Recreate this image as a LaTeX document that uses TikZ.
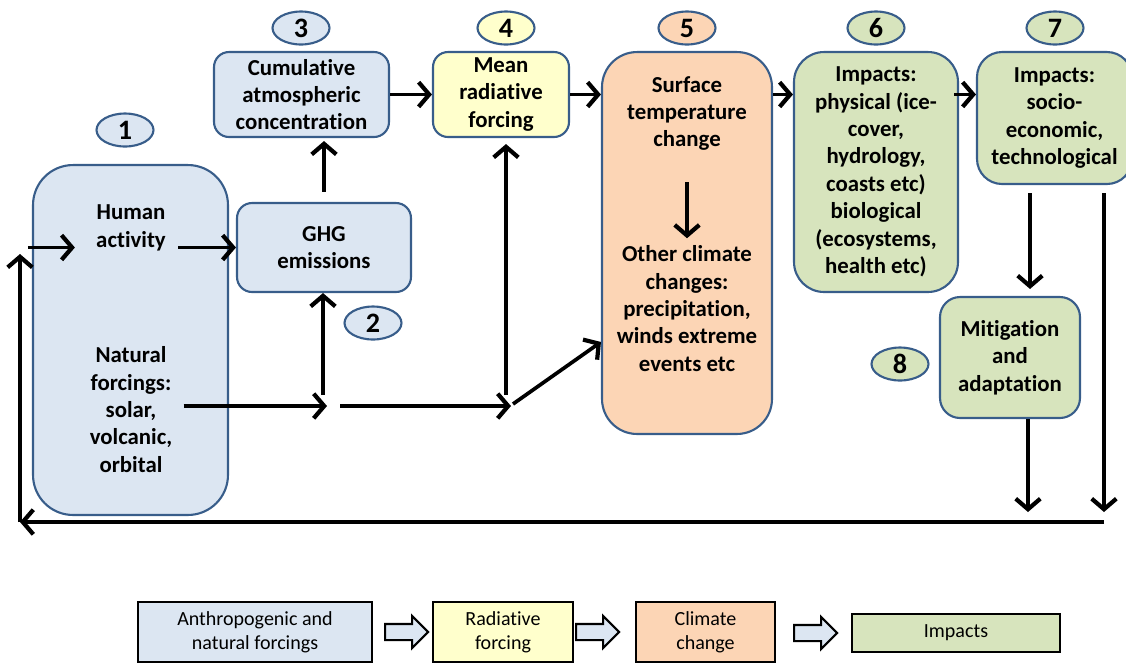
\documentclass[tikz,border=0pt]{standalone}
\usepackage{fontspec}
\setmainfont{Carlito}[RawFeature={-liga;-dlig;-clig;-calt}]
\usepackage{tikz}
\definecolor{forceblue}{RGB}{220,230,242}
\definecolor{rfyellow}{RGB}{255,255,204}
\definecolor{ccorange}{RGB}{252,213,181}
\definecolor{impgreen}{RGB}{215,228,189}
\definecolor{edgeblue}{RGB}{56,93,138}
\usetikzlibrary{arrows.meta,shapes.geometric,shapes.arrows,positioning}
\tikzstyle{stage}=[draw=edgeblue,line width=1.2pt,align=center,inner sep=0pt,font=\bfseries\fontsize{13}{15.6}\selectfont]
\tikzstyle{label}=[align=center,inner sep=0pt,font=\bfseries\fontsize{13}{15.6}\selectfont]
\tikzstyle{badge}=[draw=edgeblue,line width=1.2pt,ellipse,minimum width=1.14cm,minimum height=0.66cm,inner sep=0pt,font=\bfseries\fontsize{16}{18}\selectfont]

\begin{document}
\begin{tikzpicture}[
  x=0.02cm, y=-0.02cm,
  flow/.style={line width=2.1pt,-{Straight Barb[length=6pt,width=14pt,line width=2.4pt]}},
  legbox/.style={
    draw,
    line width=1.6pt,
    minimum height=1.2cm,
    align=center,
    font=\fontsize{11.4}{13.8}\selectfont
    },
  legarrow/.style={
    draw,
    line width=1.2pt,
    fill=forceblue,
    single arrow,
    single arrow head extend=0.16cm,
    minimum height=0.86cm,
    inner sep=0.14cm
    }
]
\useasboundingbox (0,0) rectangle (1126,664);

% boxes
\node [stage, fill=forceblue, rounded corners=0.8cm, minimum width=3.9cm, minimum height=7cm] (forcings) at (130.5,340) {};
\node [label] (human) at (131,228) {Human\\activity};
\node [label] (natural) at (131,409.5) {Natural\\forcings:\\solar,\\volcanic,\\orbital};
\node [stage, fill=forceblue, rounded corners=0.3cm, minimum width=3.48cm, minimum height=1.78cm] (ghg) at (324,247.5) {GHG\\emissions};
\node [stage, fill=forceblue, rounded corners=0.3cm, minimum width=3.5cm, minimum height=1.7cm] (cum) at (301.5,94.5) {Cumulative\\atmospheric\\concentration};
\node [stage, fill=rfyellow, rounded corners=0.3cm, minimum width=2.72cm, minimum height=1.7cm] (mean) at (501,94.5) {Mean\\radiative\\forcing};
\node [stage, fill=ccorange, rounded corners=0.7cm, minimum width=3.4cm, minimum height=7.64cm] (surf) at (687,243) {};
\node [label] (surftop) at (687,113.5) {Surface\\temperature\\change};
\node [label] (surfbottom) at (687,308.5) {Other climate\\changes:\\precipitation,\\winds extreme\\events etc};
\node [stage, fill=impgreen, rounded corners=0.6cm, minimum width=3.28cm, minimum height=4.8cm] (imp) at (876,172) {Impacts:\\physical (ice-\\cover,\\hydrology,\\coasts etc)\\biological\\(ecosystems,\\health etc)};
\node [stage, fill=impgreen, rounded corners=0.5cm, minimum width=3.1cm, minimum height=2.64cm] (soc) at (1054.5,118) {Impacts:\\socio-\\economic,\\technological};
\node [stage, fill=impgreen, rounded corners=0.4cm, minimum width=2.8cm, minimum height=2.42cm] (mit) at (1010,357.5) {Mitigation\\and\\adaptation};

% numbers
\node [badge, fill=forceblue] (n1) at (125,130) {1};
\node [badge, fill=forceblue] (n2) at (373,323) {2};
\node [badge, fill=forceblue] (n3) at (301,28) {3};
\node [badge, fill=rfyellow] (n4) at (506,28) {4};
\node [badge, fill=ccorange] (n5) at (687,28) {5};
\node [badge, fill=impgreen] (n6) at (876,28) {6};
\node [badge, fill=impgreen] (n7) at (1055,28) {7};
\node [badge, fill=impgreen] (n8) at (900,364) {8};

% junctions
\coordinate (jghg) at (323,406);
\coordinate (jrf) at (506,406);
\coordinate (loopleft) at (20,522);
\coordinate (loopright) at (1104,522);
\coordinate (loopup) at (20,254);

% connectors
\draw [flow] (loopright) -- (loopleft);
\draw [flow] (loopleft) -- (loopup);
\draw [flow, shorten >=0.42cm] ([xshift=0.16cm]loopup |- ghg.west) -- (human.west |- ghg.west);
\draw [flow] ([xshift=0.24cm]human.east |- ghg.west) -- (ghg.west);
\draw [flow] ([xshift=0.22cm]natural.east |- jghg) -- ([xshift=0.08cm]jghg);
\draw [flow] ([xshift=0.34cm]jghg) -- ([xshift=0.1cm]jrf);
\draw [flow] ([yshift=0.22cm]jghg) -- (ghg.south -| jghg);
\draw [flow, shorten >=0.12cm] ([yshift=0.22cm]jrf) -- (mean.south -| jrf);
\draw [flow] ([xshift=0.14cm,yshift=0.04cm]jrf) -- ([yshift=-1.98cm]surf.west);
\draw [flow, shorten <=0.2cm, shorten >=0.06cm] (ghg.north) -- (ghg.north |- cum.south);
\draw [flow] (cum.east |- mean.east) -- (mean.west);
\draw [flow] (mean.east) -- (mean.east -| surf.west);
\draw [flow, shorten <=0.62cm, shorten >=0.14cm] (surftop.south) -- (surfbottom.north);
\draw [flow] (surf.east |- mean.east) -- (imp.west |- mean.east);
\draw [flow] ([xshift=-0.1cm]imp.east |- mean.east) -- (soc.west |- mean.east);
\draw [flow, shorten <=0.16cm, shorten >=0.14cm] ([xshift=0.4cm]mit.north |- soc.south) -- ([xshift=0.4cm]mit.north);
\draw [flow, shorten <=0.16cm, shorten >=0.2cm] (loopright |- soc.south) -- (loopright);
\draw [flow, shorten >=0.2cm] ([xshift=0.36cm]mit.south) -- ([xshift=0.36cm]mit.south |- loopright);

% legend
\node [legbox, fill=forceblue, minimum width=4.68cm] (legforce) at (255,632) {Anthropogenic and\\natural forcings};
\node [legbox, fill=rfyellow, minimum width=2.8cm] (legrf) at (503,632) {Radiative\\forcing};
\node [legbox, fill=ccorange, minimum width=2.78cm] (legcc) at (705.5,632) {Climate\\change};
\node [legbox, fill=impgreen, minimum width=4.16cm, minimum height=0.76cm] (legimp) at (956,633) {Impacts};
\node [legarrow, left=0.04cm of legrf] (legarr1) {};
\node [legarrow, left=0.28cm of legcc] (legarr2) {};
\node [legarrow, left=0.24cm of legimp] (legarr3) {};

\end{tikzpicture}
\end{document}
